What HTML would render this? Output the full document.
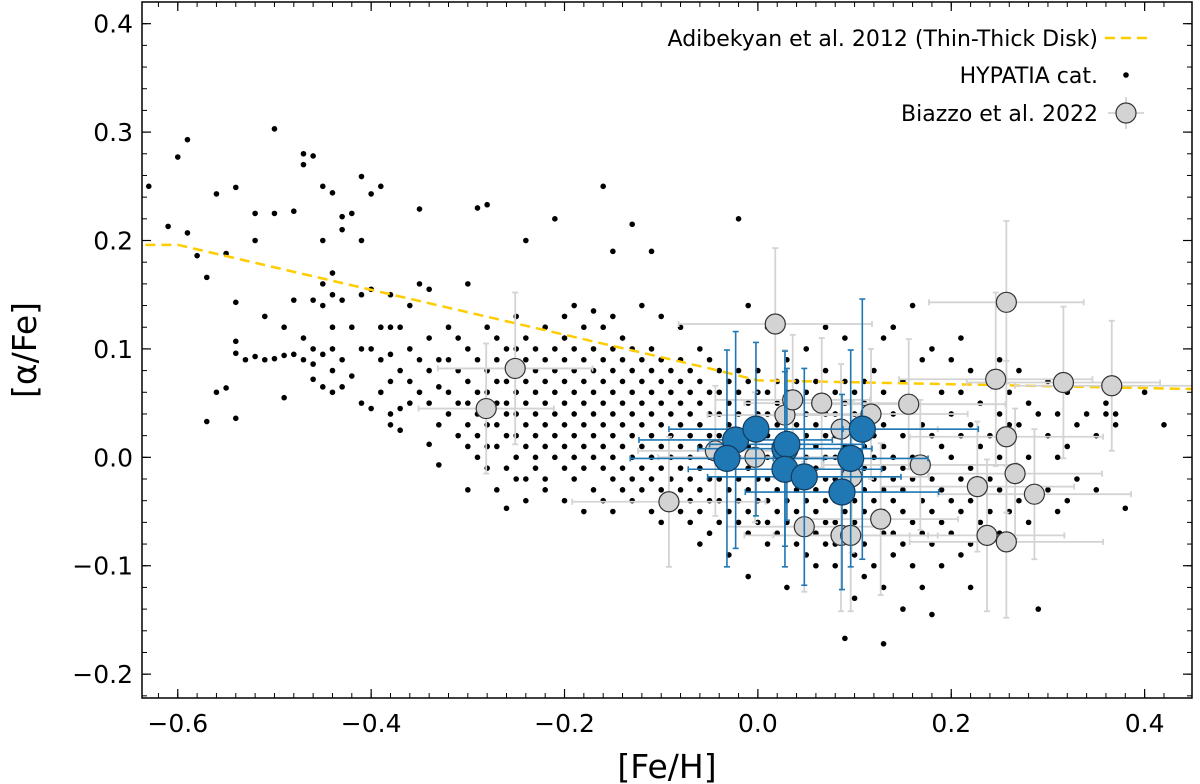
<!DOCTYPE html>
<html><head><meta charset="utf-8"><style>
body{margin:0;background:#fff;}
svg{display:block;font-family:"DejaVu Sans","Liberation Sans",sans-serif;}
</style></head><body>
<svg id="chart" width="1200" height="784" viewBox="0 0 1200 784" xmlns="http://www.w3.org/2000/svg">
<g id="plot"></g>
</svg>
<script>
const xTicks=[-0.6,-0.4,-0.2,0.0,0.2,0.4];
const xTickLabels=["\u22120.6","\u22120.4","\u22120.2","0.0","0.2","0.4"];
const yTicks=[-0.2,-0.1,0.0,0.1,0.2,0.3,0.4];
const yTickLabels=["\u22120.2","\u22120.1","0.0","0.1","0.2","0.3","0.4"];
const trendX=[-0.65,-0.6,-0.05,0.0,0.45];
const trendY=[0.196,0.196,0.082,0.071,0.063];
const hypCols=[
[-0.63,[0.25]],[-0.61,[0.213]],[-0.60,[0.277]],[-0.59,[0.293,0.207]],[-0.58,[0.186]],[-0.57,[0.033,0.166]],
[-0.56,[0.06,0.243]],[-0.55,[0.188,0.064]],[-0.54,[0.249,0.143,0.107,0.096,0.036]],[-0.53,[0.09]],
[-0.52,[0.225,0.2,0.093]],[-0.51,[0.09,0.13]],[-0.50,[0.303,0.225,0.091]],[-0.49,[0.12,0.094,0.055]],
[-0.48,[0.227,0.145,0.095]],[-0.47,[0.28,0.27,0.11,0.09]],[-0.46,[0.278,0.145,0.1,0.086,0.072]],
[-0.45,[0.25,0.2,0.16,0.14,0.095,0.065]],[-0.44,[0.244,0.17,0.15,0.12,0.1,0.08,0.06]],
[-0.43,[0.222,0.21,0.145,0.09,0.065]],[-0.42,[0.225,0.12,0.075]],[-0.41,[0.259,0.2,0.15,0.1,0.05]],
[-0.40,[0.243,0.155,0.1,0.045]],[-0.39,[0.25,0.12,0.09,0.06]],[-0.38,[0.15,0.12,0.095,0.07,0.04,0.03]],
[-0.37,[0.12,0.08,0.045,0.025]],[-0.36,[0.14,0.1,0.07,0.05]],[-0.35,[0.229,0.16,0.09,0.06]],
[-0.34,[0.155,0.11,0.08,0.05,0.012]],[-0.33,[0.09,0.065,-0.007,0.03]],[-0.32,[0.12,0.09,0.06,0.04]],
[-0.31,[0.11,0.08,0.05,0.02]],[-0.30,[0.16,0.1,0.07,0.05,0.03,0.01,-0.03]],[-0.29,[0.23,0.09,0.06,0.04,0.02,0.0]],
[-0.28,[0.233,0.12,0.08,0.06,0.04,0.03,0.01,-0.01]],[-0.27,[0.11,0.09,0.07,0.05,0.03,0.01,-0.03]],
[-0.26,[0.1,0.07,0.05,0.04,0.02,-0.01,-0.047]],[-0.25,[0.13,0.1,0.08,0.06,0.04,0.02,0.0,-0.02]],
[-0.24,[0.2,0.11,0.09,0.07,0.05,0.03,0.01,-0.02,-0.04]],[-0.23,[0.1,0.08,0.06,0.04,0.02,0.0,-0.01]],
[-0.22,[0.12,0.09,0.07,0.05,0.03,0.01,-0.02,-0.03]],[-0.21,[0.22,0.1,0.08,0.06,0.04,0.02,0.0]],
[-0.20,[0.13,0.11,0.09,0.07,0.05,0.03,0.01,-0.01,-0.04]],[-0.19,[0.14,0.1,0.08,0.06,0.04,0.02,0.0,-0.02]],
[-0.18,[0.12,0.09,0.07,0.05,0.03,0.01,-0.01,-0.05]],[-0.17,[0.135,0.1,0.08,0.06,0.04,0.02,0.0,-0.03]],
[-0.16,[0.25,0.12,0.09,0.07,0.05,0.03,0.01,-0.01,-0.04]],[-0.15,[0.19,0.13,0.1,0.08,0.06,0.04,0.02,0.0,-0.02,-0.05]],
[-0.14,[0.11,0.09,0.07,0.05,0.03,0.01,-0.01,-0.03]],[-0.13,[0.215,0.1,0.08,0.06,0.04,0.02,0.0,-0.02,-0.04]],
[-0.12,[0.14,0.09,0.07,0.05,0.03,0.01,-0.01,-0.03]],[-0.11,[0.19,0.1,0.08,0.06,0.04,0.02,0.0,-0.02,-0.05]],
[-0.10,[0.13,0.09,0.07,0.05,0.03,0.01,-0.01,-0.03,-0.06]],[-0.09,[0.08,0.06,0.04,0.02,0.0,-0.02,-0.04]],
[-0.08,[0.12,0.09,0.07,0.05,0.03,0.01,-0.01,-0.03,-0.05]],[-0.07,[0.08,0.06,0.04,0.02,0.0,-0.02,-0.04,-0.06]],
[-0.06,[0.1,0.07,0.05,0.03,0.01,-0.01,-0.03,-0.05,-0.08]],[-0.05,[0.09,0.06,0.04,0.02,0.0,-0.02,-0.04,-0.07]],
[-0.04,[0.08,0.06,0.04,0.02,0.0,-0.02,-0.04,-0.06]],[-0.03,[0.07,0.05,0.03,0.01,-0.01,-0.03,-0.05,-0.09]],
[-0.02,[0.22,0.08,0.06,0.04,0.02,0.0,-0.02,-0.04,-0.06]],[-0.01,[0.14,0.07,0.05,0.03,0.01,-0.01,-0.03,-0.05,-0.07,-0.11]],
[0.00,[0.08,0.06,0.04,0.02,0.0,-0.02,-0.04,-0.06]],[0.01,[0.12,0.06,0.04,0.02,0.0,-0.02,-0.04,-0.06,-0.08]],
[0.02,[0.07,0.05,0.03,0.01,-0.01,-0.03,-0.05,-0.07]],[0.03,[0.09,0.06,0.04,0.02,0.0,-0.02,-0.04,-0.06,-0.12]],
[0.04,[0.07,0.05,0.03,0.01,-0.01,-0.03,-0.05,-0.08]],[0.05,[0.1,0.06,0.04,0.02,0.0,-0.02,-0.04,-0.06,-0.09]],
[0.06,[0.07,0.05,0.03,0.01,-0.01,-0.03,-0.05,-0.07,-0.1]],[0.07,[0.12,0.08,0.04,0.02,0.0,-0.02,-0.04,-0.06,-0.08]],
[0.08,[0.06,0.04,0.02,0.0,-0.02,-0.04,-0.06,-0.08,-0.1]],[0.09,[0.11,0.07,0.05,0.03,0.01,-0.01,-0.03,-0.05,-0.07,-0.167]],
[0.10,[0.06,0.04,0.02,0.0,-0.02,-0.04,-0.06,-0.09,-0.13]],[0.11,[0.07,0.05,0.03,0.01,-0.01,-0.03,-0.05,-0.08,-0.11]],
[0.12,[0.08,0.04,0.02,0.0,-0.02,-0.04,-0.06,-0.1]],[0.13,[0.11,0.06,0.03,0.01,-0.01,-0.03,-0.05,-0.07,-0.12,-0.172]],
[0.14,[0.12,0.04,0.0,-0.02,-0.04,-0.07,-0.09]],[0.15,[0.07,0.02,-0.01,-0.03,-0.05,-0.08,-0.14]],
[0.16,[0.14,0.05,0.0,-0.02,-0.06,-0.1]],[0.17,[0.09,0.03,-0.01,-0.04,-0.07,-0.12]],
[0.18,[0.1,0.02,-0.02,-0.05,-0.08,-0.145]],[0.19,[0.06,0.01,-0.03,-0.06,-0.1]],
[0.20,[0.09,0.04,0.0,-0.04,-0.07]],[0.21,[0.11,0.06,0.02,-0.02,-0.05,-0.09]],
[0.22,[0.08,0.03,-0.01,-0.04,-0.08,-0.12]],[0.23,[0.05,0.01,-0.03,-0.06]],[0.24,[0.07,0.02,-0.02,-0.05]],
[0.25,[0.09,0.04,0.0,-0.03,-0.07]],[0.26,[0.06,0.03,-0.02,-0.05]],[0.27,[0.08,0.03,-0.01,-0.04]],
[0.28,[0.05,0.0,-0.06]],[0.29,[0.04,-0.03,-0.14]],[0.30,[0.07,0.02,-0.03]],[0.31,[0.04,0.0,-0.05]],
[0.32,[0.06,0.01,-0.04]],[0.33,[0.03,-0.02]],[0.34,[0.04]],[0.35,[0.02,-0.03]],[0.36,[0.04,0.05]],
[0.37,[0.04,0.03]],[0.38,[-0.047]],[0.40,[0.06]],[0.42,[0.03]]
];
const greyX=[-0.281,-0.251,-0.092,-0.044,-0.003,0.018,0.028,0.036,0.066,0.086,0.117,0.156,0.168,0.097,0.048,0.086,0.096,0.127,0.227,0.237,0.246,0.257,0.257,0.257,0.266,0.286,0.316,0.366];
const greyY=[0.045,0.082,-0.041,0.006,0.0,0.123,0.039,0.053,0.05,0.026,0.04,0.049,-0.007,-0.018,-0.064,-0.072,-0.072,-0.057,-0.027,-0.072,0.072,0.143,0.019,-0.078,-0.015,-0.034,0.069,0.066];
const greyXerr=[0.07,0.08,0.1,0.08,0.1,0.1,0.08,0.08,0.08,0.1,0.1,0.1,0.1,0.08,0.08,0.1,0.08,0.08,0.1,0.08,0.1,0.08,0.1,0.1,0.09,0.1,0.1,0.1];
const greyYerr=[0.06,0.07,0.06,0.06,0.06,0.07,0.06,0.06,0.06,0.06,0.06,0.06,0.06,0.07,0.06,0.07,0.07,0.07,0.06,0.07,0.08,0.075,0.07,0.07,0.06,0.06,0.07,0.06];
const blueX=[-0.023,-0.002,-0.032,0.028,0.03,0.028,0.048,0.108,0.096,0.087];
const blueY=[0.016,0.026,-0.001,0.008,0.012,-0.011,-0.018,0.026,-0.001,-0.032];
const blueXerr=[0.1,0.09,0.1,0.09,0.08,0.1,0.1,0.12,0.08,0.1];
const blueYerr=[0.1,0.08,0.1,0.09,0.07,0.09,0.1,0.12,0.1,0.09];

const L=142,R=1192,T=2,B=698,X0=-0.637,X1=0.449,Y0=-0.222,Y1=0.42;
const sx=v=>L+(v-X0)/(X1-X0)*(R-L);
const sy=v=>B-(v-Y0)/(Y1-Y0)*(B-T);
const NS="http://www.w3.org/2000/svg";
const svg=document.getElementById('chart');
const g=document.getElementById('plot');
function mk(tag,attrs,parent){const e=document.createElementNS(NS,tag);for(const k in attrs)e.setAttribute(k,attrs[k]);(parent||g).appendChild(e);return e;}

const defs=mk('defs',{},svg);
const cp=mk('clipPath',{id:'clip'},defs);
mk('rect',{x:L,y:T,width:R-L,height:B-T},cp);
const inner=mk('g',{'clip-path':'url(#clip)'});



hypCols.forEach(c=>{c[1].forEach(y=>{
  const d=mk('circle',{cx:sx(c[0]),cy:sy(y),r:2.8,fill:'#000'},inner);
  
  
});});

let pts=trendX.map((x,i)=>sx(x)+','+sy(trendY[i])).join(' ');
const tl=mk('polyline',{points:pts,fill:'none',stroke:'#ffcc00','stroke-width':2.5,'stroke-dasharray':'10,6'},inner);



function errbar(x,y,xe,ye,col,w){
  const eg=mk('g',{stroke:col,'stroke-width':w,fill:'none'},inner);
  
  
  mk('line',{x1:sx(x-xe),x2:sx(x+xe),y1:sy(y),y2:sy(y)},eg);
  mk('line',{x1:sx(x),x2:sx(x),y1:sy(y-ye),y2:sy(y+ye)},eg);
  mk('line',{x1:sx(x-xe),x2:sx(x-xe),y1:sy(y)-3,y2:sy(y)+3},eg);
  mk('line',{x1:sx(x+xe),x2:sx(x+xe),y1:sy(y)-3,y2:sy(y)+3},eg);
  mk('line',{x1:sx(x)-3,x2:sx(x)+3,y1:sy(y-ye),y2:sy(y-ye)},eg);
  mk('line',{x1:sx(x)-3,x2:sx(x)+3,y1:sy(y+ye),y2:sy(y+ye)},eg);
}
greyX.forEach((x,i)=>errbar(x,greyY[i],greyXerr[i],greyYerr[i],'#d3d3d3',1.8));
greyX.forEach((x,i)=>{
  const c=mk('circle',{cx:sx(x),cy:sy(greyY[i]),r:10,fill:'#d3d3d3',stroke:'#333','stroke-width':1.2},inner);
  
  
});
blueX.forEach((x,i)=>errbar(x,blueY[i],blueXerr[i],blueYerr[i],'#1f77b4',1.6));
blueX.forEach((x,i)=>{
  const c=mk('circle',{cx:sx(x),cy:sy(blueY[i]),r:13,fill:'#1f77b4',stroke:'#123c5e','stroke-width':1.2},inner);
  
  
});

const fr=mk('rect',{x:L,y:T,width:R-L,height:B-T,fill:'none',stroke:'#000','stroke-width':1.5});



xTicks.forEach((t,i)=>{
  const x=sx(t);
  mk('line',{x1:x,x2:x,y1:B,y2:B-9,stroke:'#000','stroke-width':1.2});
  mk('line',{x1:x,x2:x,y1:T,y2:T+9,stroke:'#000','stroke-width':1.2});
  const tx=mk('text',{x:x,y:B+34,'font-size':25,'text-anchor':'middle'});
  tx.textContent=xTickLabels[i];
  
  
});
for(let v=-0.62;v<=0.44;v+=0.02){const x=sx(v);
  mk('line',{x1:x,x2:x,y1:B,y2:B-5,stroke:'#000','stroke-width':1});
  mk('line',{x1:x,x2:x,y1:T,y2:T+5,stroke:'#000','stroke-width':1});}
yTicks.forEach((t,i)=>{
  const y=sy(t);
  mk('line',{x1:L,x2:L+9,y1:y,y2:y,stroke:'#000','stroke-width':1.2});
  mk('line',{x1:R,x2:R-9,y1:y,y2:y,stroke:'#000','stroke-width':1.2});
  const tx=mk('text',{x:L-9,y:y+9,'font-size':25,'text-anchor':'end'});
  tx.textContent=yTickLabels[i];
  
  
});
for(let v=-0.22;v<=0.42;v+=0.02){const y=sy(v);
  mk('line',{x1:L,x2:L+5,y1:y,y2:y,stroke:'#000','stroke-width':1});
  mk('line',{x1:R,x2:R-5,y1:y,y2:y,stroke:'#000','stroke-width':1});}

const xl=mk('text',{x:(L+R)/2,y:778,'font-size':33,'text-anchor':'middle'});
xl.textContent='[Fe/H]';


const yl=mk('text',{x:0,y:0,'font-size':33,'text-anchor':'middle',transform:'translate(36,350) rotate(-90)'});
yl.textContent='[\u03b1/Fe]';



const lg=mk('g',{});


const labels=['Adibekyan et al. 2012 (Thin-Thick Disk)','HYPATIA cat.','Biazzo et al. 2022'];
const ly=[38,75,113];
labels.forEach((s,i)=>{
  const t=mk('text',{x:1098,y:ly[i]+8,'font-size':22,'text-anchor':'end'},lg);
  t.textContent=s;
  
  
});
mk('line',{x1:1105,x2:1147,y1:ly[0],y2:ly[0],stroke:'#ffcc00','stroke-width':2.5,'stroke-dasharray':'10,6'},lg);
mk('circle',{cx:1126,cy:ly[1],r:2.8,fill:'#000'},lg);
mk('line',{x1:1108,x2:1144,y1:ly[2],y2:ly[2],stroke:'#d3d3d3','stroke-width':1.8},lg);
mk('line',{x1:1126,x2:1126,y1:ly[2]-16,y2:ly[2]+16,stroke:'#d3d3d3','stroke-width':1.8},lg);
mk('circle',{cx:1126,cy:ly[2],r:10,fill:'#d3d3d3',stroke:'#333','stroke-width':1.2},lg);
</script>
</body></html>
